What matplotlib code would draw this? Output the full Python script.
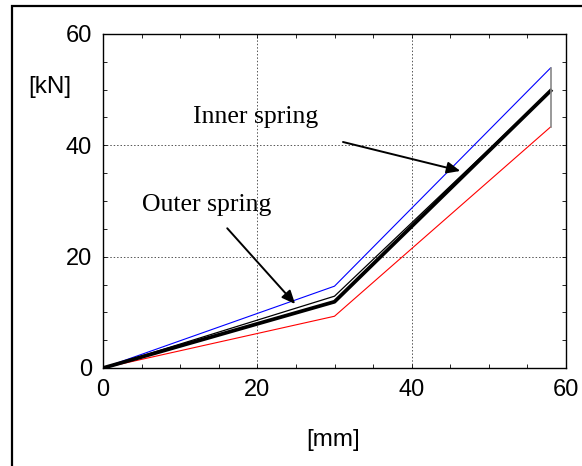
import matplotlib
matplotlib.use("Agg")
import matplotlib.pyplot as plt
from matplotlib.patches import Rectangle
from matplotlib.ticker import MultipleLocator

# Data (deflection [mm] vs load [kN])
x_pts = [0, 30, 58]
inner_blue = [0, 14.7, 53.9]
outer_red = [0, 9.3, 43.3]
total_thick = [0, 11.9, 49.8]
total_thin = [0, 12.9, 49.8]
end_x = [58, 58]
end_y = [43.3, 53.9]

x_ticks = [0, 20, 40, 60]
y_ticks = [0, 20, 40, 60]

fig = plt.figure(figsize=(5.82, 4.66), dpi=100)
ax = fig.add_axes([103/582, 1-368/466, (566-103)/582, (368-34)/466])

ax.plot(x_pts, inner_blue, color="#0000ff", lw=0.8)
ax.plot(x_pts, outer_red, color="#ff0000", lw=0.8)
ax.plot(x_pts, total_thin, color="black", lw=0.9)
ax.plot(x_pts, total_thick, color="black", lw=2.7)
ax.plot(end_x, end_y, color="#888888", lw=1.2)

ax.set_xlim(0, 60)
ax.set_ylim(0, 60)
ax.set_xticks(x_ticks)
ax.set_yticks(y_ticks)
ax.xaxis.set_minor_locator(MultipleLocator(5))
ax.yaxis.set_minor_locator(MultipleLocator(5))
ax.tick_params(which="both", direction="in", top=True, right=True)
ax.tick_params(which="major", length=3, width=0.6, labelsize=17, pad=8)
ax.tick_params(which="minor", length=3, width=0.6)
for lab in ax.get_xticklabels() + ax.get_yticklabels():
    lab.set_fontfamily("Liberation Sans")
ax.grid(True, which="major", color="#555555", linestyle=(0, (1.5, 2)), lw=0.7)
for s in ax.spines.values():
    s.set_linewidth(1.0)

ax.annotate("", xy=(46.3, 35.4), xytext=(31.1, 40.6),
            arrowprops=dict(arrowstyle="-|>,head_length=0.8,head_width=0.35",
                            color="black", lw=1.4, shrinkA=0, shrinkB=0))
ax.annotate("", xy=(24.9, 11.5), xytext=(16.1, 25.1),
            arrowprops=dict(arrowstyle="-|>,head_length=0.8,head_width=0.35",
                            color="black", lw=1.4, shrinkA=0, shrinkB=0))
ax.text(19.8, 45.0, "Inner spring", fontfamily="Liberation Serif", fontsize=18.5,
        ha="center", va="center")
ax.text(13.4, 29.3, "Outer spring", fontfamily="Liberation Serif", fontsize=18.5,
        ha="center", va="center")

fig.text(50/582, 1-87/466, "[kN]", fontfamily="Liberation Sans", fontsize=17.5,
         ha="center", va="center")
fig.text(333/582, 1-440/466, "[mm]", fontfamily="Liberation Sans", fontsize=17.5,
         ha="center", va="center")

fig.patches.append(Rectangle((12/582, -0.05), 1.0, 1-6/466+0.05, transform=fig.transFigure,
                             fill=False, edgecolor="black", lw=1.6, figure=fig))

fig.savefig("out.png", dpi=100)
